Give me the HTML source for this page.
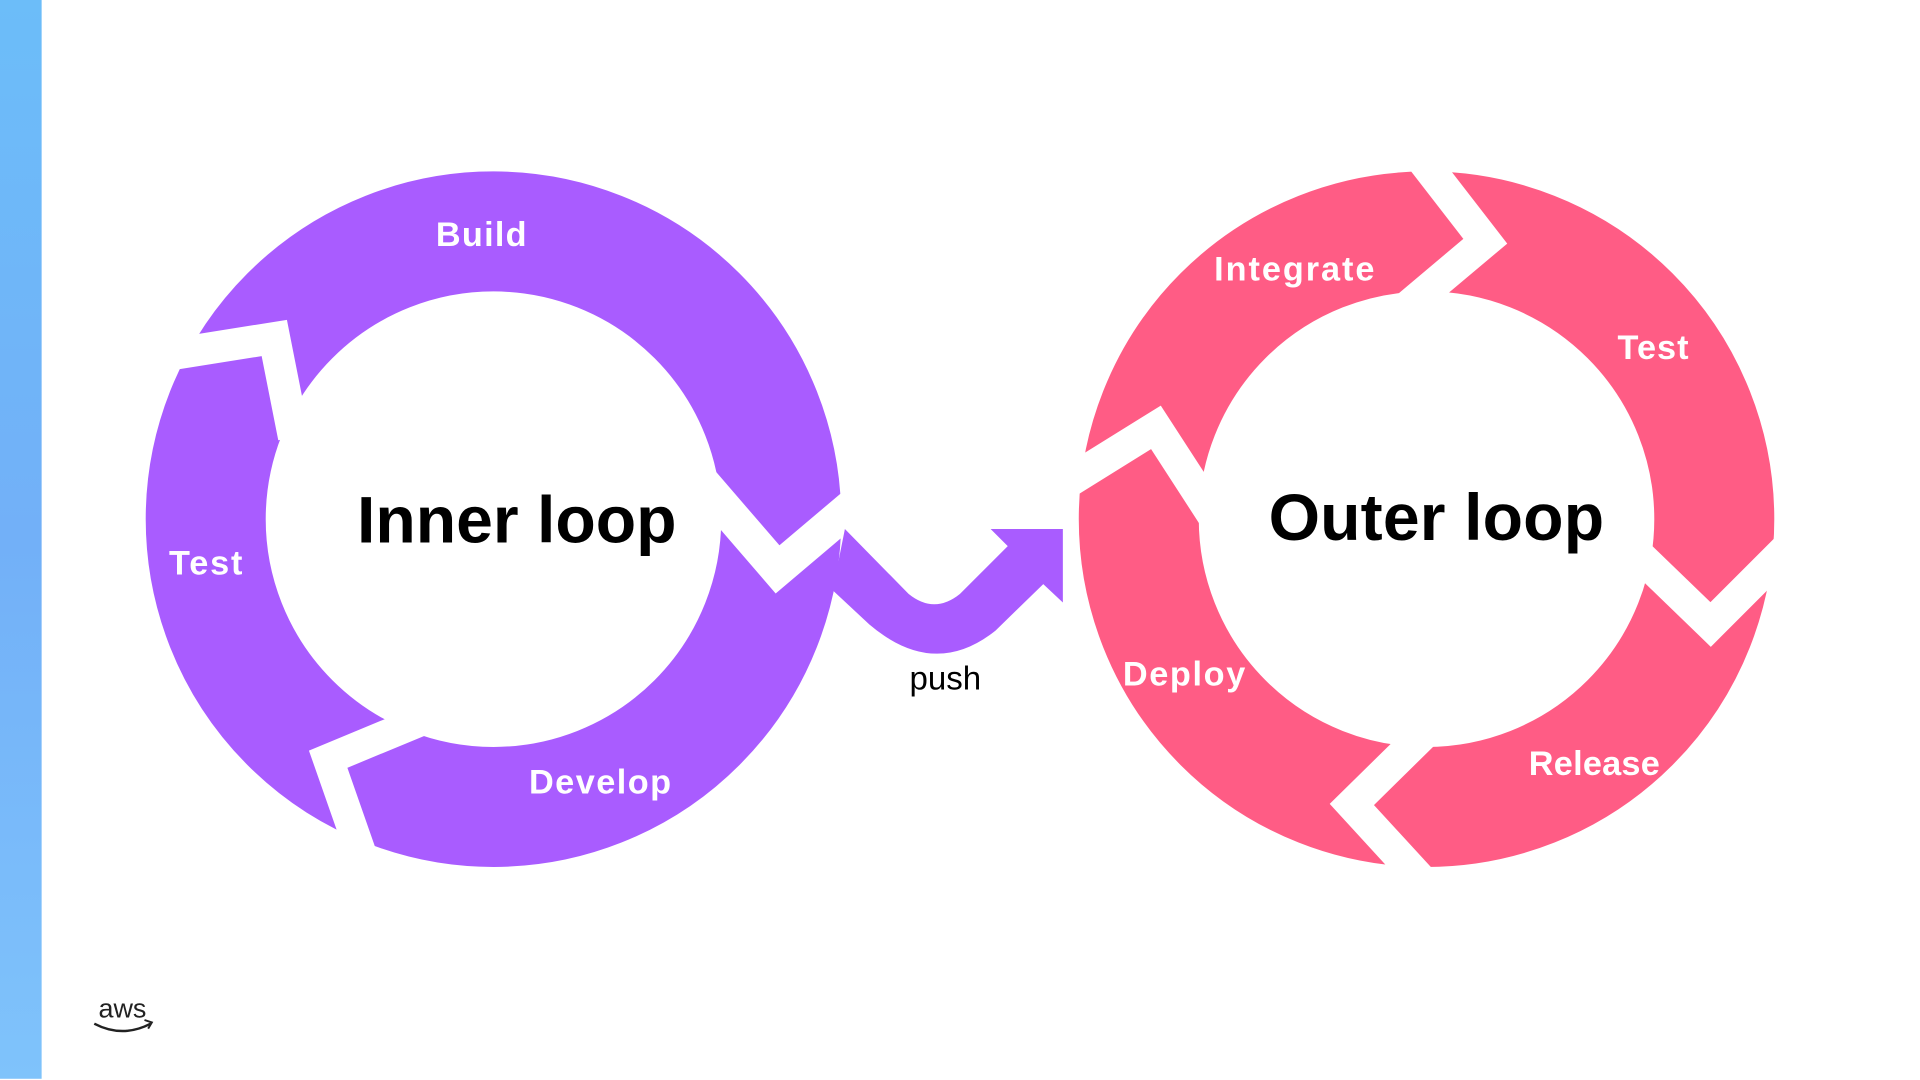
<!DOCTYPE html>
<html><head><meta charset="utf-8"><style>
html,body{margin:0;padding:0;background:#fff;width:1920px;height:1080px;overflow:hidden}
svg{display:block}
text{font-family:"Liberation Sans",sans-serif}
</style></head><body>
<svg width="1920" height="1080" viewBox="0 0 1568 882" preserveAspectRatio="none" xmlns="http://www.w3.org/2000/svg">
<defs><linearGradient id="bg" x1="0" y1="0" x2="0" y2="1">
<stop offset="0" stop-color="#6cbdf9"/><stop offset="0.5" stop-color="#72b0f8"/><stop offset="1" stop-color="#7fc3fb"/></linearGradient></defs>
<rect x="0" y="0" width="34" height="881" fill="url(#bg)"/>
<circle cx="403" cy="424" r="235" fill="none" stroke="#a95cff" stroke-width="98"/>
<g fill="none" stroke="#fff" stroke-linejoin="miter" stroke-miterlimit="10">
<polyline points="130,291 224,276 240,357" stroke-width="26"/>
<polyline points="572,392 635,465 700,410" stroke-width="28"/>
<polyline points="350,586 268,620 296,700" stroke-width="25"/>
</g>
<path d="M690,432 L742,485 Q763,502 784,485 L823,446 L809,432 L868,432 L868,492 L852,477 L813,515 Q763,555 710,510 L680,482 Z" fill="#a95cff"/>
<circle cx="1165" cy="424" r="235" fill="none" stroke="#ff5c85" stroke-width="98"/>
<g fill="none" stroke="#fff" stroke-linejoin="miter" stroke-miterlimit="10">
<polyline points="1158,126 1213,197 1150,250" stroke-width="26"/>
<polyline points="1460,447 1397,510 1337,452" stroke-width="26"/>
<polyline points="1168,594 1104,657 1160,718" stroke-width="26"/>
<polyline points="870,395 944,349 990,420" stroke-width="26"/>
</g>
<g font-weight="bold" fill="#fff" font-size="28" text-anchor="middle">
<text x="393" y="201" textLength="74">Build</text>
<text x="168" y="469" textLength="60">Test</text>
<text x="490" y="648" textLength="116">Develop</text>
<text x="1057" y="229" textLength="131">Integrate</text>
<text x="1350" y="293" textLength="58">Test</text>
<text x="1302" y="633" textLength="107">Release</text>
<text x="967" y="560" textLength="100">Deploy</text>
</g>
<g font-weight="bold" fill="#000" font-size="54" text-anchor="middle">
<text x="422" y="443" textLength="261">Inner loop</text>
<text x="1173" y="441" textLength="274">Outer loop</text>
</g>
<text x="772" y="563" font-size="27" text-anchor="middle" fill="#000">push</text>
<text x="100" y="831" font-size="22" text-anchor="middle" fill="#222">aws</text>
<path d="M77,836 Q100,848 123,836" fill="none" stroke="#222" stroke-width="2"/>
<path d="M118,833 L124,835 L121,840" fill="none" stroke="#222" stroke-width="1.6"/>
</svg>
</body></html>
